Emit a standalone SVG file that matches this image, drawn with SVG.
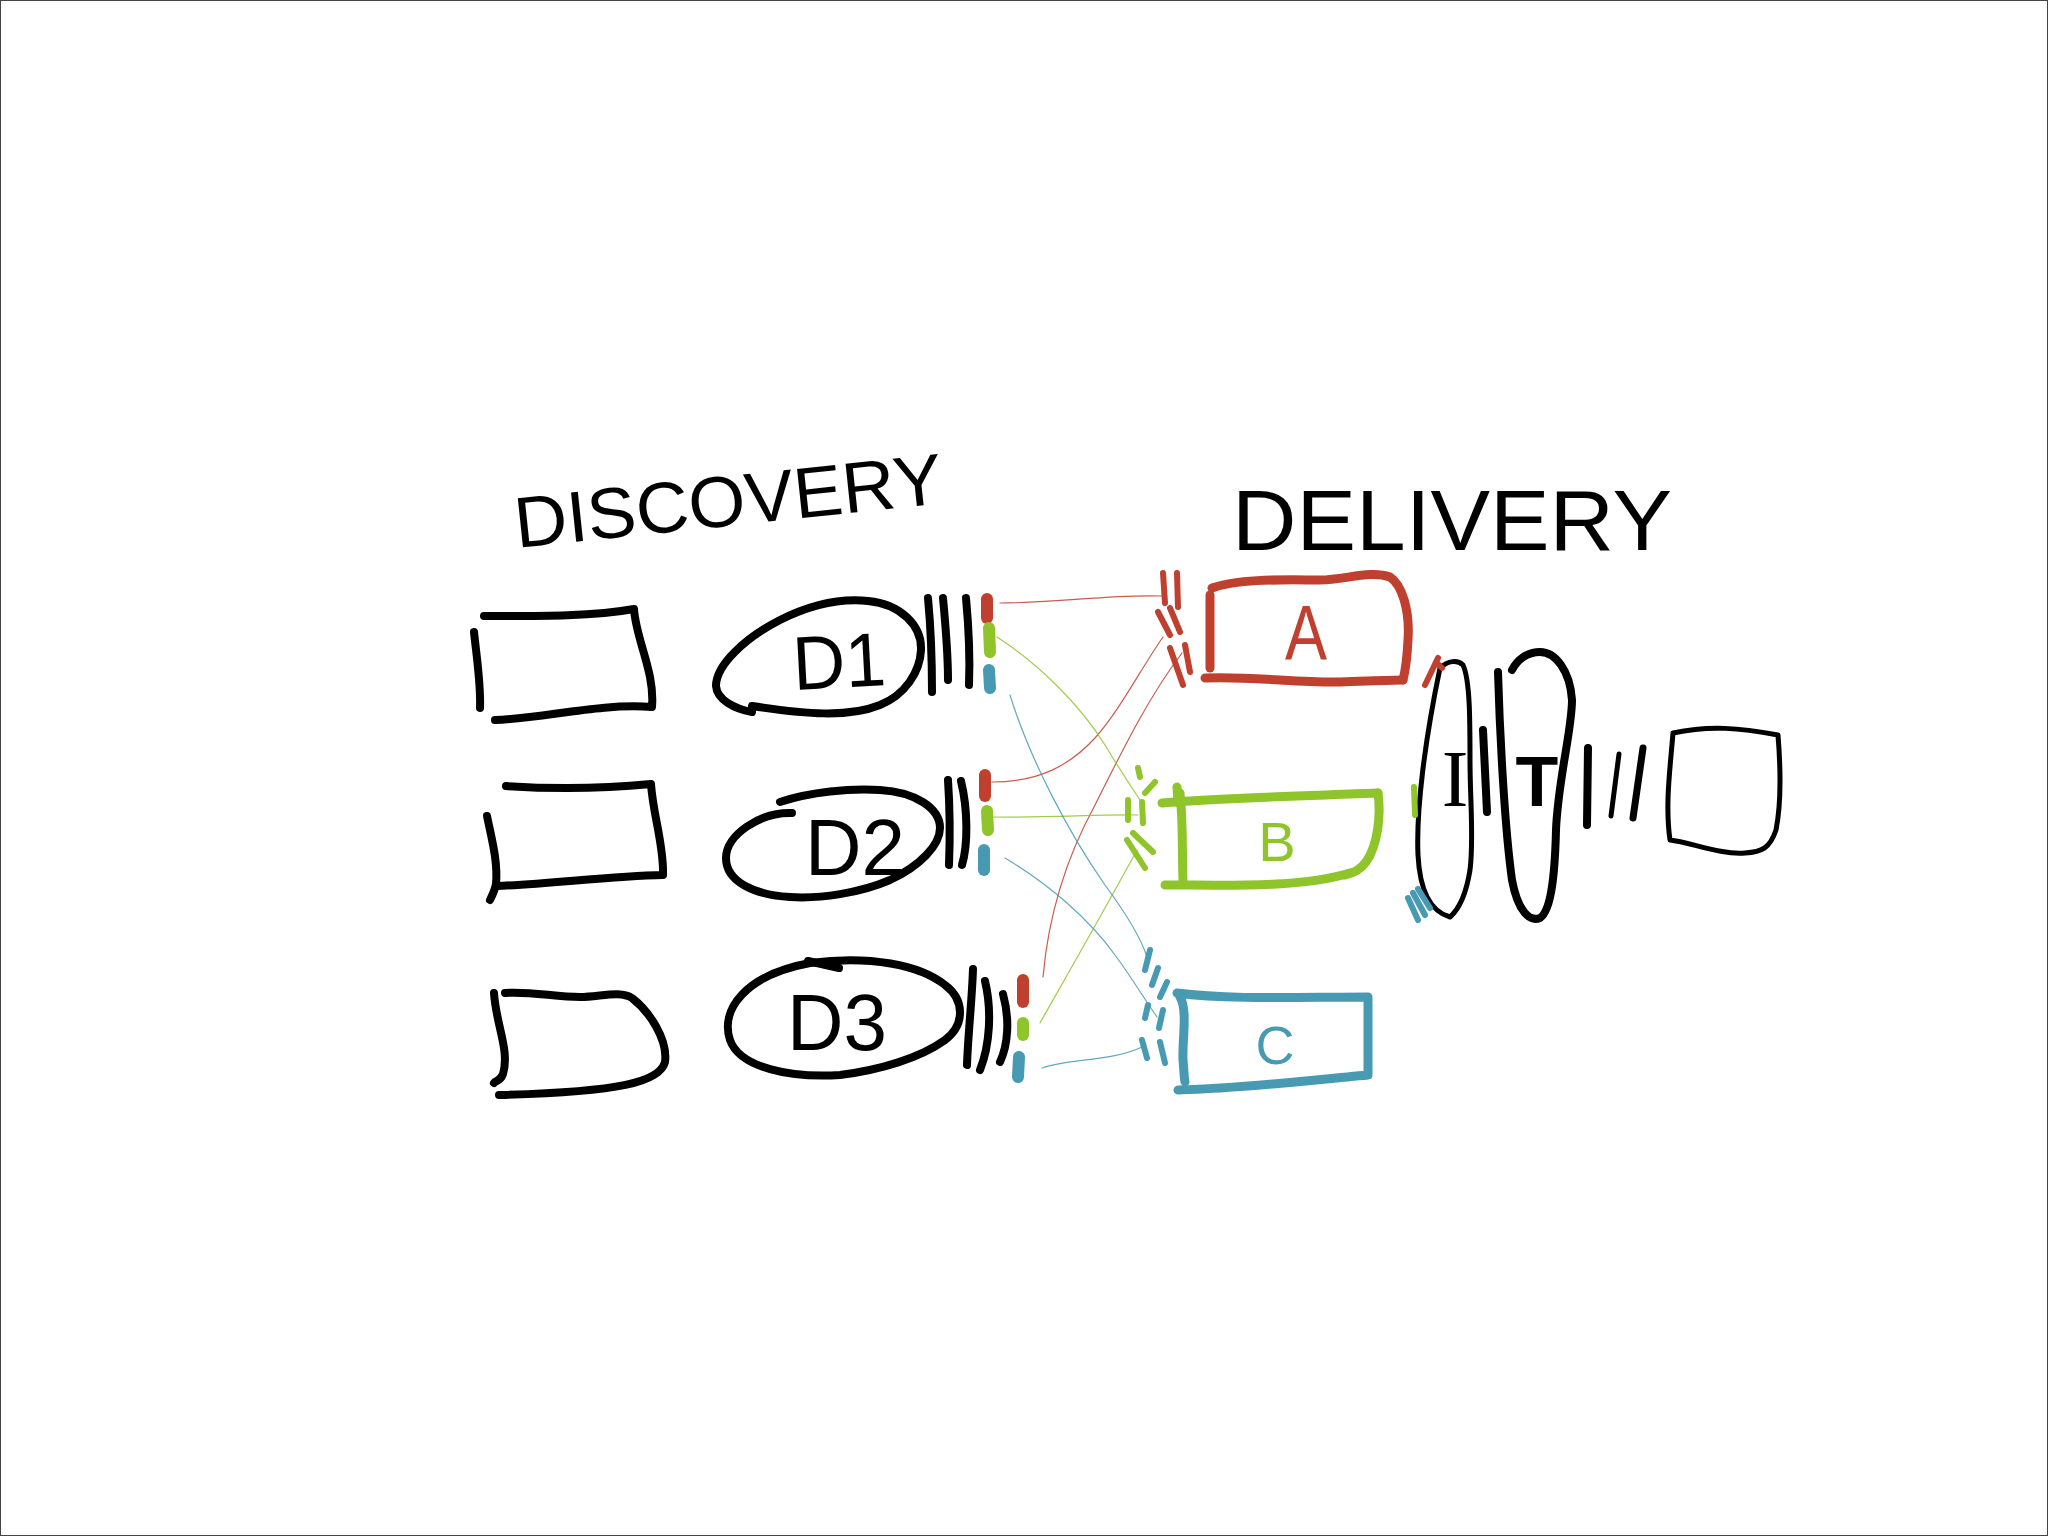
<svg xmlns="http://www.w3.org/2000/svg" width="2048" height="1536" viewBox="0 0 2048 1536">
<style>
.ink{fill:none;stroke:#000;stroke-width:8;stroke-linecap:round;stroke-linejoin:round}
.thin{stroke-width:5}
.red{stroke:#c0402f}
.green{stroke:#8fc42a}
.blue{stroke:#479ab2}
.mk{fill:none;stroke-width:12;stroke-linecap:round}
.pt{fill:none;stroke-width:6;stroke-linecap:round}
.box{fill:none;stroke-width:9;stroke-linecap:round;stroke-linejoin:round}
.conn{fill:none;stroke-width:1.2;stroke-linecap:round;stroke-opacity:0.85}
.lbl{font-family:"Liberation Sans",Arial,sans-serif}
</style>
<rect x="0.5" y="0.5" width="2047" height="1535" fill="#fff" stroke="#444" stroke-width="1"/>

<g id="title-discovery">
<text class="lbl" x="517" y="548" font-size="72" textLength="430" lengthAdjust="spacingAndGlyphs" transform="rotate(-6 517 548)">DISCOVERY</text>
</g>
<g id="title-delivery">
<text class="lbl" x="1232" y="550" font-size="86" textLength="440" lengthAdjust="spacingAndGlyphs">DELIVERY</text>
</g>

<g id="connectors">
<path class="conn red" d="M1000,603 C1060,603 1110,594 1162,596"/>
<path class="conn red" d="M992,782 C1040,782 1070,765 1095,738 C1120,710 1140,670 1163,637"/>
<path class="conn red" d="M1043,977 C1048,920 1065,860 1095,805 C1125,745 1150,695 1182,653"/>
<path class="conn green" d="M997,637 C1040,665 1080,705 1105,745 C1120,770 1130,785 1140,800"/>
<path class="conn green" d="M993,817 C1050,818 1100,814 1138,815"/>
<path class="conn green" d="M1040,1023 C1070,970 1110,900 1137,850"/>
<path class="conn blue" d="M1010,695 C1030,760 1070,835 1105,885 C1125,912 1140,935 1147,957"/>
<path class="conn blue" d="M1005,858 C1050,885 1090,920 1115,955 C1130,975 1145,1000 1157,1017"/>
<path class="conn blue" d="M1042,1068 C1070,1058 1110,1062 1142,1047"/>
</g>

<g id="box1">
<path class="ink" d="M484,616 C530,616 590,617 634,609 C636,640 655,672 652,707 C600,703 545,718 495,720"/>
<path class="ink" d="M474,632 C477,660 481,685 480,708"/>
</g>
<g id="box2">
<path class="ink" d="M506,786 C550,789 600,789 651,784 C653,815 664,845 663,875 C610,876 550,884 496,886"/>
<path class="ink" d="M487,816 C492,840 498,862 496,884 C495,890 492,896 490,900"/>
</g>
<g id="box3">
<path class="ink" d="M505,993 C530,991 555,997 580,997 C600,997 620,990 632,998 C650,1012 668,1040 665,1062 C660,1082 620,1092 499,1095"/>
<path class="ink" d="M494,993 C496,1025 510,1050 503,1074 C500,1082 496,1080 494,1083"/>
</g>

<g id="D1">
<path class="ink" d="M752,712 C735,709 717,700 716,686 C716,665 745,638 780,620 C810,605 840,598 868,601 C900,604 922,625 921,650 C920,672 905,695 880,705 C848,718 805,714 752,706"/>
<text class="lbl" x="794" y="690" font-size="76" textLength="93" lengthAdjust="spacingAndGlyphs" transform="rotate(-3 794 690)">D1</text>
<path class="ink" d="M928,598 C931,630 932,660 932,692"/>
<path class="ink" d="M943,598 C946,630 948,655 948,680"/>
<path class="ink" d="M966,598 C969,630 970,660 969,685"/>
<path class="mk red" d="M987,599 L987,618"/>
<path class="mk green" d="M989,628 L990,652"/>
<path class="mk blue" d="M989,670 L990,688"/>
</g>
<g id="D2">
<path class="ink" d="M780,802 C810,792 850,788 880,790 C915,792 940,808 940,828 C940,845 920,866 890,880 C860,893 820,899 790,897 C755,895 726,882 726,858 C726,835 760,812 792,813"/>
<text class="lbl" x="805" y="875" font-size="80" textLength="100" lengthAdjust="spacingAndGlyphs">D2</text>
<path class="ink" d="M948,780 C950,810 950,840 949,865"/>
<path class="ink" d="M961,781 C968,810 968,845 962,865"/>
<path class="mk red" d="M985,775 L985,796"/>
<path class="mk green" d="M987,811 L988,830"/>
<path class="mk blue" d="M984,850 L984,870"/>
</g>
<g id="D3">
<path class="ink" d="M810,963 C870,955 920,965 945,985 C965,1000 965,1025 945,1040 C920,1058 880,1070 840,1075 C790,1078 740,1068 730,1040 C720,1010 745,975 810,963"/>
<path class="ink" d="M808,961 L839,968"/>
<text class="lbl" x="787" y="1050" font-size="80" textLength="100" lengthAdjust="spacingAndGlyphs">D3</text>
<path class="ink" d="M973,969 C972,1000 968,1035 967,1065"/>
<path class="ink" d="M985,981 C992,1010 990,1045 980,1070"/>
<path class="ink" d="M1003,994 C1010,1020 1008,1045 1000,1062"/>
<path class="mk red" d="M1023,980 L1023,1002"/>
<path class="mk green" d="M1023,1023 L1023,1035"/>
<path class="mk blue" d="M1019,1057 L1018,1077"/>
</g>

<g id="A">
<path class="box red" d="M1212,588 C1240,578 1290,580 1320,580 C1345,580 1370,570 1390,577 C1402,585 1410,610 1408,640 C1407,660 1405,672 1403,680"/>
<path class="box red" d="M1205,678 C1250,676 1300,683 1340,682 C1370,681 1390,680 1403,680"/>
<path class="box red" d="M1210,595 L1210,668"/>
<text class="lbl" x="1285" y="660" font-size="78" fill="#c0402f" textLength="42" lengthAdjust="spacingAndGlyphs">A</text>
<path class="pt red" d="M1163,573 L1165,603"/>
<path class="pt red" d="M1177,573 L1178,607"/>
<path class="pt red" d="M1158,612 L1170,635"/>
<path class="pt red" d="M1170,608 L1180,632"/>
<path class="pt red" d="M1170,648 L1183,685"/>
<path class="pt red" d="M1185,645 L1190,672"/>
</g>
<g id="B">
<path class="box green" d="M1162,803 C1220,798 1300,796 1378,793"/>
<path class="box green" d="M1378,793 C1381,815 1378,845 1366,862 C1360,870 1355,872 1345,875"/>
<path class="box green" d="M1165,885 C1230,885 1300,888 1350,873"/>
<path class="box green" d="M1180,793 C1183,820 1182,850 1183,880"/>
<path class="box green" d="M1177,787 L1178,803"/>
<text class="lbl" x="1277" y="861" font-size="56" fill="#8fc42a" text-anchor="middle">B</text>
<path class="pt green" d="M1138,768 L1140,777"/>
<path class="pt green" d="M1145,793 L1155,782"/>
<path class="pt green" d="M1128,800 L1128,820"/>
<path class="pt green" d="M1142,802 L1143,823"/>
<path class="pt green" d="M1127,840 L1145,868"/>
<path class="pt green" d="M1133,833 L1153,852"/>
</g>
<g id="C">
<path class="box blue" d="M1177,993 C1230,1000 1300,997 1368,997 L1368,1075 C1310,1080 1250,1088 1178,1090"/>
<path class="box blue" d="M1180,997 C1188,1010 1182,1040 1183,1060 C1184,1070 1184,1078 1185,1082"/>
<text class="lbl" x="1275" y="1064" font-size="54" fill="#479ab2" text-anchor="middle">C</text>
<path class="pt blue" d="M1150,950 L1145,970"/>
<path class="pt blue" d="M1158,968 L1152,985"/>
<path class="pt blue" d="M1167,982 L1160,997"/>
<path class="pt blue" d="M1148,1005 L1145,1018"/>
<path class="pt blue" d="M1163,1010 L1159,1028"/>
<path class="pt blue" d="M1142,1040 L1147,1058"/>
<path class="pt blue" d="M1160,1042 L1165,1063"/>
</g>

<g id="I">
<path class="ink thin" d="M1440,668 C1448,660 1458,660 1463,665 C1470,680 1470,720 1470,760 C1470,800 1474,840 1470,870 C1466,895 1458,910 1450,917 C1432,912 1420,895 1418,855 C1416,810 1425,740 1440,668 Z"/>
<text x="1455" y="806" font-family="Liberation Serif, serif" font-size="80" text-anchor="middle">I</text>
<path class="ink" d="M1483,730 L1487,812"/>
<path class="pt red" d="M1425,685 L1438,658 M1436,662 L1442,668"/>
<path class="pt green" d="M1414,787 L1415,815"/>
<path class="pt blue" d="M1408,898 L1418,920 M1413,893 L1425,915 M1418,889 L1430,908"/>
</g>
<g id="T">
<path class="ink" d="M1498,672 C1500,740 1505,830 1512,880 C1518,912 1530,922 1540,918 C1552,910 1555,870 1556,830 C1558,780 1572,730 1572,700 C1570,670 1555,652 1540,652 C1527,652 1517,660 1512,670"/>
<text class="lbl" x="1537" y="806" font-size="70" font-weight="bold" text-anchor="middle">T</text>
<path class="ink" d="M1588,748 L1587,825"/>
<path class="ink thin" d="M1619,754 L1611,816"/>
<path class="ink" d="M1643,748 L1633,818" style="stroke-width:7"/>
</g>
<g id="box-right">
<path class="ink thin" d="M1673,733 C1710,725 1740,728 1778,735 C1780,760 1782,800 1776,830 C1770,848 1762,852 1745,853 C1720,855 1690,842 1670,840 C1665,805 1670,770 1673,733"/>
</g>
</svg>
